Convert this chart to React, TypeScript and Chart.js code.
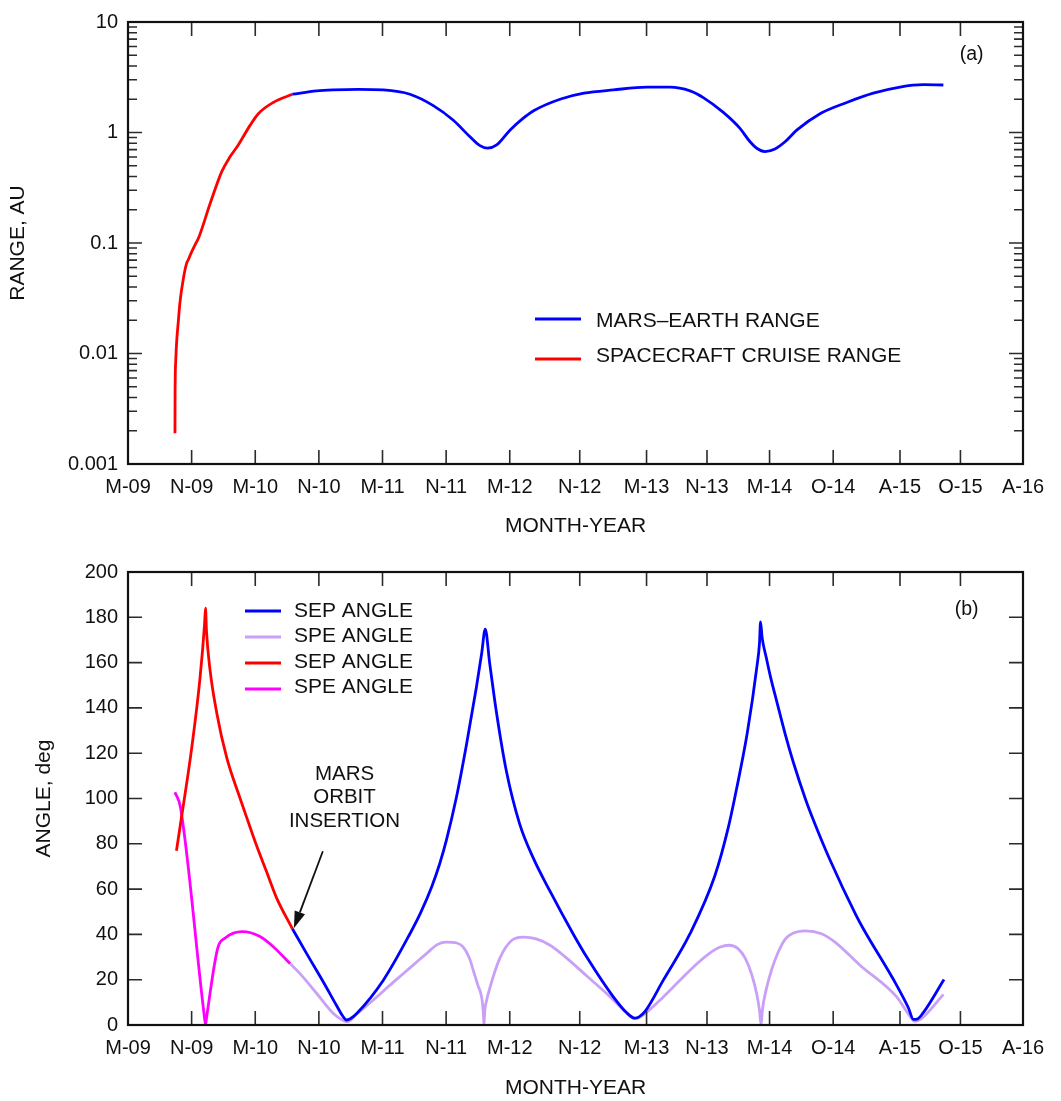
import { useEffect, useRef } from 'react';
import { Chart, registerables } from 'chart.js';

Chart.register(...registerables);

const FONT = '"Liberation Sans", Arial, Helvetica, sans-serif';
const INK = '#111111';

// Time axis: months elapsed since May 2009, with the labelled dates
const MONTH_TICKS = [0, 6, 12, 18, 24, 30, 36, 42.6, 48.9, 54.6, 60.5, 66.5, 72.8, 78.5, 84.4];
const MONTH_LABELS = ['M-09', 'N-09', 'M-10', 'N-10', 'M-11', 'N-11', 'M-12', 'N-12', 'M-13', 'N-13', 'M-14', 'O-14', 'A-15', 'O-15', 'A-16'];

// (a) range axis
const RANGE_DECADES = [0.001, 0.01, 0.1, 1, 10];
const RANGE_LABELS = ['0.001', '0.01', '0.1', '1', '10'];
const RANGE_MINOR = [0.001, 0.01, 0.1, 1].flatMap((d) => [2, 3, 4, 5, 6, 7, 8, 9].map((k) => d * k));

// (b) angle axis
const ANGLE_TICKS = [0, 20, 40, 60, 80, 100, 120, 140, 160, 180, 200];

// Spacecraft cruise range, AU
const cruiseMonths = [4.43, 4.44, 4.50, 4.59, 4.74, 4.90, 5.21, 5.54, 5.69, 5.95, 6.30, 6.70, 7.73, 8.84, 9.62, 10.40, 11.51, 12.29, 13.70, 15.50];
const cruiseRangeAU = [0.0019, 0.0043, 0.0085, 0.0128, 0.0192, 0.029, 0.047, 0.066, 0.0705, 0.081, 0.095, 0.114, 0.225, 0.443, 0.602, 0.771, 1.16, 1.48, 1.87, 2.22];

// Mars-Earth range after orbit insertion, AU
const marsEarthMonths = [15.50, 17.80, 19.36, 21.72, 24.08, 26.59, 28.79, 30.68, 32.25, 33.19, 33.90, 34.77, 36.02, 37.22, 38.29, 40.81, 43.00, 45.77, 48.92, 51.11, 53.00, 54.25, 56.14, 57.71, 58.66, 59.29, 60.07, 61.01, 61.96, 63.06, 65.26, 67.78, 70.28, 72.80, 75.00, 76.89];
const marsEarthRangeAU = [2.22, 2.38, 2.43, 2.46, 2.43, 2.22, 1.75, 1.29, 0.914, 0.760, 0.721, 0.771, 1.048, 1.333, 1.58, 2.01, 2.27, 2.43, 2.57, 2.57, 2.38, 2.07, 1.52, 1.09, 0.824, 0.72, 0.672, 0.71, 0.824, 1.05, 1.48, 1.87, 2.27, 2.58, 2.71, 2.69];

// Cruise phase angles, deg
const cruiseSepMonths = [4.57, 4.90, 6.00, 6.79, 7.22, 7.31, 7.40, 7.73, 8.36, 9.31, 10.50, 11.35, 12.14, 13.08, 14.02, 15.50];
const cruiseSepDeg = [76.9, 87.2, 122.0, 153.1, 177.0, 184.0, 174.0, 157.0, 138.0, 118.0, 101.0, 89.5, 79.0, 67.5, 56.0, 42.5];
const cruiseSpeMonths = [4.43, 4.95, 7.22, 7.31, 7.40, 8.45, 9.20, 10.80, 12.40, 13.65, 15.30];
const cruiseSpeDeg = [102.8, 96.0, 3.0, 0.0, 3.0, 33.7, 38.5, 41.2, 39.2, 34.8, 27.0];

// Mars orbit phase angles, deg
const orbitSepMonths = [15.50, 16.85, 18.42, 19.68, 20.20, 20.62, 21.00, 21.57, 24.08, 26.59, 27.60, 28.67, 29.40, 30.02, 30.96, 31.90, 32.85, 33.35, 33.69, 34.10, 34.73, 35.68, 36.94, 38.19, 39.77, 41.97, 43.26, 45.77, 47.00, 47.81, 48.20, 48.76, 50.48, 53.00, 55.35, 56.60, 57.40, 58.40, 59.30, 59.55, 59.65, 59.80, 60.20, 60.60, 61.17, 62.00, 62.74, 63.94, 64.63, 66.14, 68.65, 69.34, 72.49, 73.60, 74.06, 74.40, 75.00, 76.95];
const orbitSepDeg = [42.5, 31.5, 19.0, 8.5, 4.3, 2.2, 2.9, 5.1, 19.8, 40.3, 49.6, 61.4, 71.3, 81.5, 100.3, 123.3, 149.0, 164.0, 174.8, 160.0, 138.5, 112.1, 88.7, 74.0, 59.3, 40.3, 30.0, 12.4, 5.5, 3.0, 3.6, 6.0, 19.8, 40.3, 66.0, 87.0, 104.5, 129.0, 158.0, 168.5, 178.0, 171.0, 162.0, 153.5, 143.0, 128.0, 116.0, 99.0, 90.5, 73.5, 48.5, 42.5, 17.5, 7.5, 2.5, 2.6, 5.5, 20.1];
const orbitSpeMonths = [15.30, 16.22, 17.80, 19.36, 20.30, 20.62, 20.95, 21.50, 23.00, 25.00, 27.00, 28.30, 29.20, 30.00, 31.00, 31.60, 32.20, 32.60, 33.00, 33.36, 33.50, 33.57, 33.64, 33.80, 34.05, 35.05, 36.20, 37.30, 38.50, 39.80, 41.20, 43.30, 45.50, 47.00, 47.81, 48.60, 50.48, 52.00, 53.60, 54.80, 55.80, 56.70, 57.50, 58.20, 58.80, 59.30, 59.55, 59.70, 59.82, 60.17, 60.70, 61.30, 62.00, 62.70, 63.90, 65.40, 66.70, 69.00, 72.49, 73.50, 74.20, 74.85, 76.90];
const orbitSpeDeg = [27.0, 22.7, 13.9, 5.1, 2.0, 1.5, 2.0, 4.5, 10.5, 18.8, 26.9, 32.2, 35.6, 36.6, 36.2, 34.5, 29.5, 23.5, 17.5, 12.0, 6.0, 0.0, 6.0, 10.5, 15.2, 29.3, 37.4, 38.8, 38.0, 35.2, 30.2, 21.5, 12.3, 5.5, 2.9, 4.5, 12.4, 19.5, 26.8, 31.5, 34.3, 35.2, 33.8, 29.5, 22.5, 13.5, 6.5, 0.0, 6.5, 15.4, 24.5, 32.0, 38.0, 40.5, 41.6, 40.3, 36.5, 26.5, 12.4, 5.5, 1.6, 2.9, 13.5];

// Orbit insertion point (end of cruise)
const MOI_MONTH = 15.5;
const MOI_SEP_DEG = 42.5;

const BLUE = '#0000ff';
const RED = '#ff0000';
const MAGENTA = '#ff00ff';
const LAVENDER = '#c9a0f8';

const pts = (xs: number[], ys: number[]) => xs.map((x, i) => ({ x, y: ys[i] }));

// Inward tick marks on all four sides plus the plot frame
function axisFrame(yMajor: number[], yMinor: number[]) {
  return {
    id: 'axisFrame',
    afterDatasetsDraw(chart: any) {
      const { ctx, chartArea: a } = chart;
      const xs = chart.scales.x;
      const ys = chart.scales.y;
      ctx.save();
      ctx.strokeStyle = '#2b2b2b';
      ctx.lineWidth = 1.6;
      ctx.beginPath();
      for (const v of MONTH_TICKS) {
        const px = xs.getPixelForValue(v);
        ctx.moveTo(px, a.bottom);
        ctx.lineTo(px, a.bottom - 14);
        ctx.moveTo(px, a.top);
        ctx.lineTo(px, a.top + 14);
      }
      const yTick = (v: number, len: number) => {
        const py = ys.getPixelForValue(v);
        ctx.moveTo(a.left, py);
        ctx.lineTo(a.left + len, py);
        ctx.moveTo(a.right, py);
        ctx.lineTo(a.right - len, py);
      };
      yMajor.forEach((v) => yTick(v, 14));
      yMinor.forEach((v) => yTick(v, 9));
      ctx.stroke();
      ctx.strokeStyle = INK;
      ctx.lineWidth = 2.2;
      ctx.strokeRect(a.left, a.top, a.right - a.left, a.bottom - a.top);
      ctx.restore();
    },
  };
}

// Key drawn inside the plot: one short line and the dataset label per row
function keyBox(lineX: [number, number], textX: number, lineY: number[], textY: number[]) {
  return {
    id: 'keyBox',
    afterDraw(chart: any) {
      const { ctx } = chart;
      ctx.save();
      chart.data.datasets.forEach((ds: any, i: number) => {
        ctx.strokeStyle = ds.borderColor;
        ctx.lineWidth = 3;
        ctx.beginPath();
        ctx.moveTo(lineX[0], lineY[i]);
        ctx.lineTo(lineX[1], lineY[i]);
        ctx.stroke();
        ctx.fillStyle = INK;
        ctx.font = `21px ${FONT}`;
        ctx.textAlign = 'left';
        ctx.textBaseline = 'middle';
        ctx.fillText(ds.label, textX, textY[i]);
      });
      ctx.restore();
    },
  };
}

function panelTag(text: string, x: number, y: number) {
  return {
    id: 'panelTag',
    afterDraw(chart: any) {
      const { ctx } = chart;
      ctx.save();
      ctx.fillStyle = INK;
      ctx.font = `19.5px ${FONT}`;
      ctx.textAlign = 'center';
      ctx.textBaseline = 'middle';
      ctx.fillText(text, x, y);
      ctx.restore();
    },
  };
}

// "MARS ORBIT INSERTION" callout with an arrow onto the insertion point
const insertionNote = {
  id: 'insertionNote',
  afterDraw(chart: any) {
    const { ctx } = chart;
    const tipX = chart.scales.x.getPixelForValue(MOI_MONTH) + 1.5;
    const tipY = chart.scales.y.getPixelForValue(MOI_SEP_DEG) - 0.5;
    const tailX = tipX + 29;
    const tailY = tipY - 77;
    ctx.save();
    ctx.fillStyle = INK;
    ctx.font = `20.5px ${FONT}`;
    ctx.textAlign = 'center';
    ctx.textBaseline = 'middle';
    ['MARS', 'ORBIT', 'INSERTION'].forEach((t, i) => ctx.fillText(t, 344.5, 224.5 + i * 23.3));
    const ang = Math.atan2(tipY - tailY, tipX - tailX);
    const head = 17;
    const bx = tipX - head * Math.cos(ang);
    const by = tipY - head * Math.sin(ang);
    ctx.strokeStyle = INK;
    ctx.lineWidth = 1.8;
    ctx.beginPath();
    ctx.moveTo(tailX, tailY);
    ctx.lineTo(bx, by);
    ctx.stroke();
    const w = 5.5;
    ctx.beginPath();
    ctx.moveTo(tipX, tipY);
    ctx.lineTo(bx + w * Math.sin(ang), by - w * Math.cos(ang));
    ctx.lineTo(bx - w * Math.sin(ang), by + w * Math.cos(ang));
    ctx.closePath();
    ctx.fill();
    ctx.restore();
  },
};

const tickFont = { family: FONT, size: 20 };
const titleFont = { family: FONT, size: 21 };

function timeAxis(height: number, titleBottom: number) {
  return {
    type: 'linear',
    min: 0,
    max: 84.4,
    bounds: 'data',
    grid: { display: false, drawTicks: false },
    border: { display: false },
    afterBuildTicks: (s: any) => {
      s.ticks = MONTH_TICKS.map((value) => ({ value }));
    },
    afterFit: (s: any) => {
      s.height = height;
    },
    ticks: {
      autoSkip: false,
      maxRotation: 0,
      padding: 11.5,
      color: INK,
      font: tickFont,
      callback: (_v: any, i: number) => MONTH_LABELS[i],
    },
    title: {
      display: true,
      text: 'MONTH-YEAR',
      color: INK,
      font: titleFont,
      padding: { top: 0, bottom: titleBottom },
    },
  };
}

const common = {
  responsive: false,
  animation: false,
  events: [],
  plugins: { legend: { display: false }, tooltip: { enabled: false } },
  elements: {
    point: { radius: 0 },
    line: { borderWidth: 2.8, cubicInterpolationMode: 'monotone', borderJoinStyle: 'round', borderCapStyle: 'butt' },
  },
};

function rangeConfig(): any {
  return {
    type: 'line',
    data: {
      datasets: [
        { label: 'MARS\u2013EARTH RANGE', data: pts(marsEarthMonths, marsEarthRangeAU), borderColor: BLUE },
        { label: 'SPACECRAFT CRUISE RANGE', data: pts(cruiseMonths, cruiseRangeAU), borderColor: RED },
      ],
    },
    options: {
      ...common,
      layout: { padding: { top: 15, right: 38, bottom: 0, left: 0 } },
      scales: {
        x: timeAxis(86, 11.6),
        y: {
          type: 'logarithmic',
          min: 0.001,
          max: 10,
          grid: { display: false, drawTicks: false },
          border: { display: false },
          afterBuildTicks: (s: any) => {
            s.ticks = RANGE_DECADES.map((value) => ({ value }));
          },
          afterFit: (s: any) => {
            s.width = 128;
          },
          ticks: { padding: 10, color: INK, font: tickFont, callback: (_v: any, i: number) => RANGE_LABELS[i] },
          title: { display: true, text: 'RANGE, AU', color: INK, font: titleFont, padding: { top: 5.7, bottom: 0 } },
        },
      },
    },
    plugins: [
      axisFrame(RANGE_DECADES, RANGE_MINOR),
      keyBox([535, 581], 596, [319, 359], [321, 356.5]),
      panelTag('(a)', 971.7, 55),
    ],
  };
}

function angleConfig(): any {
  return {
    type: 'line',
    data: {
      datasets: [
        { label: 'SEP ANGLE', data: pts(orbitSepMonths, orbitSepDeg), borderColor: BLUE },
        { label: 'SPE ANGLE', data: pts(orbitSpeMonths, orbitSpeDeg), borderColor: LAVENDER },
        { label: 'SEP ANGLE', data: pts(cruiseSepMonths, cruiseSepDeg), borderColor: RED },
        { label: 'SPE ANGLE', data: pts(cruiseSpeMonths, cruiseSpeDeg), borderColor: MAGENTA },
      ],
    },
    options: {
      ...common,
      layout: { padding: { top: 20, right: 38, bottom: 0, left: 0 } },
      scales: {
        x: timeAxis(76, 0),
        y: {
          type: 'linear',
          min: 0,
          max: 200,
          grid: { display: false, drawTicks: false },
          border: { display: false },
          afterBuildTicks: (s: any) => {
            s.ticks = ANGLE_TICKS.map((value) => ({ value }));
          },
          afterFit: (s: any) => {
            s.width = 128;
          },
          ticks: { padding: 10, color: INK, font: tickFont },
          title: { display: true, text: 'ANGLE, deg', color: INK, font: titleFont, padding: { top: 31.4, bottom: 0 } },
        },
      },
    },
    plugins: [
      axisFrame(ANGLE_TICKS, []),
      keyBox([245, 281], 294, [61, 87, 113, 139], [61, 86.5, 111.8, 137]),
      panelTag('(b)', 966.7, 60),
      insertionNote,
    ],
  };
}

export default function App() {
  const rangeRef = useRef<HTMLCanvasElement>(null);
  const angleRef = useRef<HTMLCanvasElement>(null);

  useEffect(() => {
    const range = new Chart(rangeRef.current as HTMLCanvasElement, rangeConfig());
    const angle = new Chart(angleRef.current as HTMLCanvasElement, angleConfig());
    return () => {
      range.destroy();
      angle.destroy();
    };
  }, []);

  return (
    <div style={{ position: 'absolute', left: 0, top: 0, width: 1061, height: 1101, background: '#ffffff' }}>
      <canvas ref={rangeRef} width={1061} height={550} style={{ position: 'absolute', left: 0, top: 0, display: 'block' }} />
      <canvas ref={angleRef} width={1061} height={551} style={{ position: 'absolute', left: 0, top: 550, display: 'block' }} />
    </div>
  );
}
